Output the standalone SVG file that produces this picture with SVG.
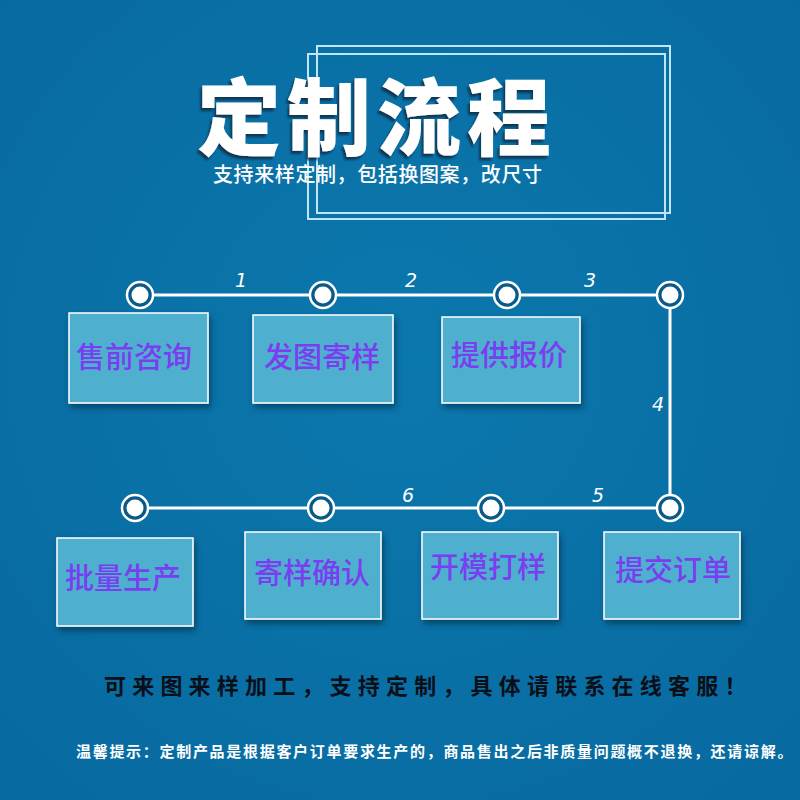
<svg xmlns="http://www.w3.org/2000/svg" width="800" height="800" viewBox="0 0 800 800">
<defs>
<filter id="sh" x="-10%" y="-10%" width="130%" height="140%">
<feDropShadow dx="2" dy="4" stdDeviation="3" flood-color="#03304d" flood-opacity="0.7"/>
</filter>
<filter id="tsh" x="-10%" y="-10%" width="130%" height="140%">
<feDropShadow dx="-2" dy="3" stdDeviation="1" flood-color="#0a2540" flood-opacity="0.8"/>
</filter>
<radialGradient id="bg" cx="50%" cy="45%" r="70%">
<stop offset="0" stop-color="#0b78ad"/>
<stop offset="1" stop-color="#086aa0"/>
</radialGradient>
</defs>
<style>
.box{fill:#50afcf;stroke:#ffffff;stroke-width:1.5;filter:url(#sh)}
.lbl{font-family:"Noto Sans CJK SC","Noto Sans",sans-serif;font-size:29px;fill:#7a3ef0;font-weight:500}
.num{font-family:"DejaVu Sans","Liberation Sans",sans-serif;font-size:19px;font-style:italic;fill:#ffffff;text-anchor:middle}
.line{stroke:#ffffff;stroke-width:3;fill:none}
.ring{fill:#0a5a88;stroke:#ffffff;stroke-width:2.5}
.dot{fill:#ffffff}
.frame{fill:none;stroke:#bfe6f5;stroke-width:2}
</style>
<rect x="0" y="0" width="800" height="800" fill="url(#bg)"/>

<g id="header">
<rect class="frame" x="317" y="46" width="353" height="167"/>
<rect class="frame" x="308" y="54" width="357" height="165"/>
<text x="197" y="149" font-family="Noto Sans CJK SC,sans-serif" font-weight="900" font-size="84" letter-spacing="6" fill="#ffffff" filter="url(#tsh)">定制流程</text>
<text x="213" y="182" font-family="Noto Sans CJK SC,sans-serif" font-weight="500" font-size="20" letter-spacing="0.6" fill="#ffffff">支持来样定制，包括换图案，改尺寸</text>
</g>

<g id="connectors">
<polyline class="line" points="140,295 670,295 670,508 135,508"/>
<text class="num" x="241" y="287">1</text>
<text class="num" x="411" y="287">2</text>
<text class="num" x="590" y="287">3</text>
<text class="num" x="658" y="411">4</text>
<text class="num" x="598" y="502">5</text>
<text class="num" x="408" y="502">6</text>
</g>

<g id="dots">
<g><circle class="ring" cx="140" cy="295" r="13"/><circle class="dot" cx="140" cy="295" r="8.5"/></g>
<g><circle class="ring" cx="323" cy="295" r="13"/><circle class="dot" cx="323" cy="295" r="8.5"/></g>
<g><circle class="ring" cx="507" cy="295" r="13"/><circle class="dot" cx="507" cy="295" r="8.5"/></g>
<g><circle class="ring" cx="670" cy="295" r="13"/><circle class="dot" cx="670" cy="295" r="8.5"/></g>
<g><circle class="ring" cx="135" cy="508" r="13"/><circle class="dot" cx="135" cy="508" r="8.5"/></g>
<g><circle class="ring" cx="321" cy="508" r="13"/><circle class="dot" cx="321" cy="508" r="8.5"/></g>
<g><circle class="ring" cx="491" cy="508" r="13"/><circle class="dot" cx="491" cy="508" r="8.5"/></g>
<g><circle class="ring" cx="670" cy="508" r="13"/><circle class="dot" cx="670" cy="508" r="8.5"/></g>
</g>

<g id="n1"><rect class="box" x="69" y="313" width="139" height="90"/><text class="lbl" x="76" y="368">售前咨询</text></g>
<g id="n2"><rect class="box" x="253" y="315" width="140" height="88"/><text class="lbl" x="264" y="368">发图寄样</text></g>
<g id="n3"><rect class="box" x="442" y="317" width="138" height="86"/><text class="lbl" x="451" y="366">提供报价</text></g>
<g id="n4"><rect class="box" x="604" y="532" width="136" height="87"/><text class="lbl" x="615" y="581">提交订单</text></g>
<g id="n5"><rect class="box" x="422" y="532" width="136" height="87"/><text class="lbl" x="430" y="578">开模打样</text></g>
<g id="n6"><rect class="box" x="245" y="532" width="136" height="87"/><text class="lbl" x="254" y="584">寄样确认</text></g>
<g id="n7"><rect class="box" x="57" y="538" width="136" height="88"/><text class="lbl" x="65" y="589">批量生产</text></g>

<g id="footer">
<text x="104" y="694" font-family="Noto Sans CJK SC,sans-serif" font-weight="700" font-size="22" letter-spacing="6.2" fill="#0a0f18">可来图来样加工，支持定制，具体请联系在线客服！</text>
<text x="76" y="757" font-family="Noto Sans CJK SC,sans-serif" font-weight="700" font-size="15" letter-spacing="1.7" fill="#ffffff">温馨提示：定制产品是根据客户订单要求生产的，商品售出之后非质量问题概不退换，还请谅解。</text>
</g>
</svg>
